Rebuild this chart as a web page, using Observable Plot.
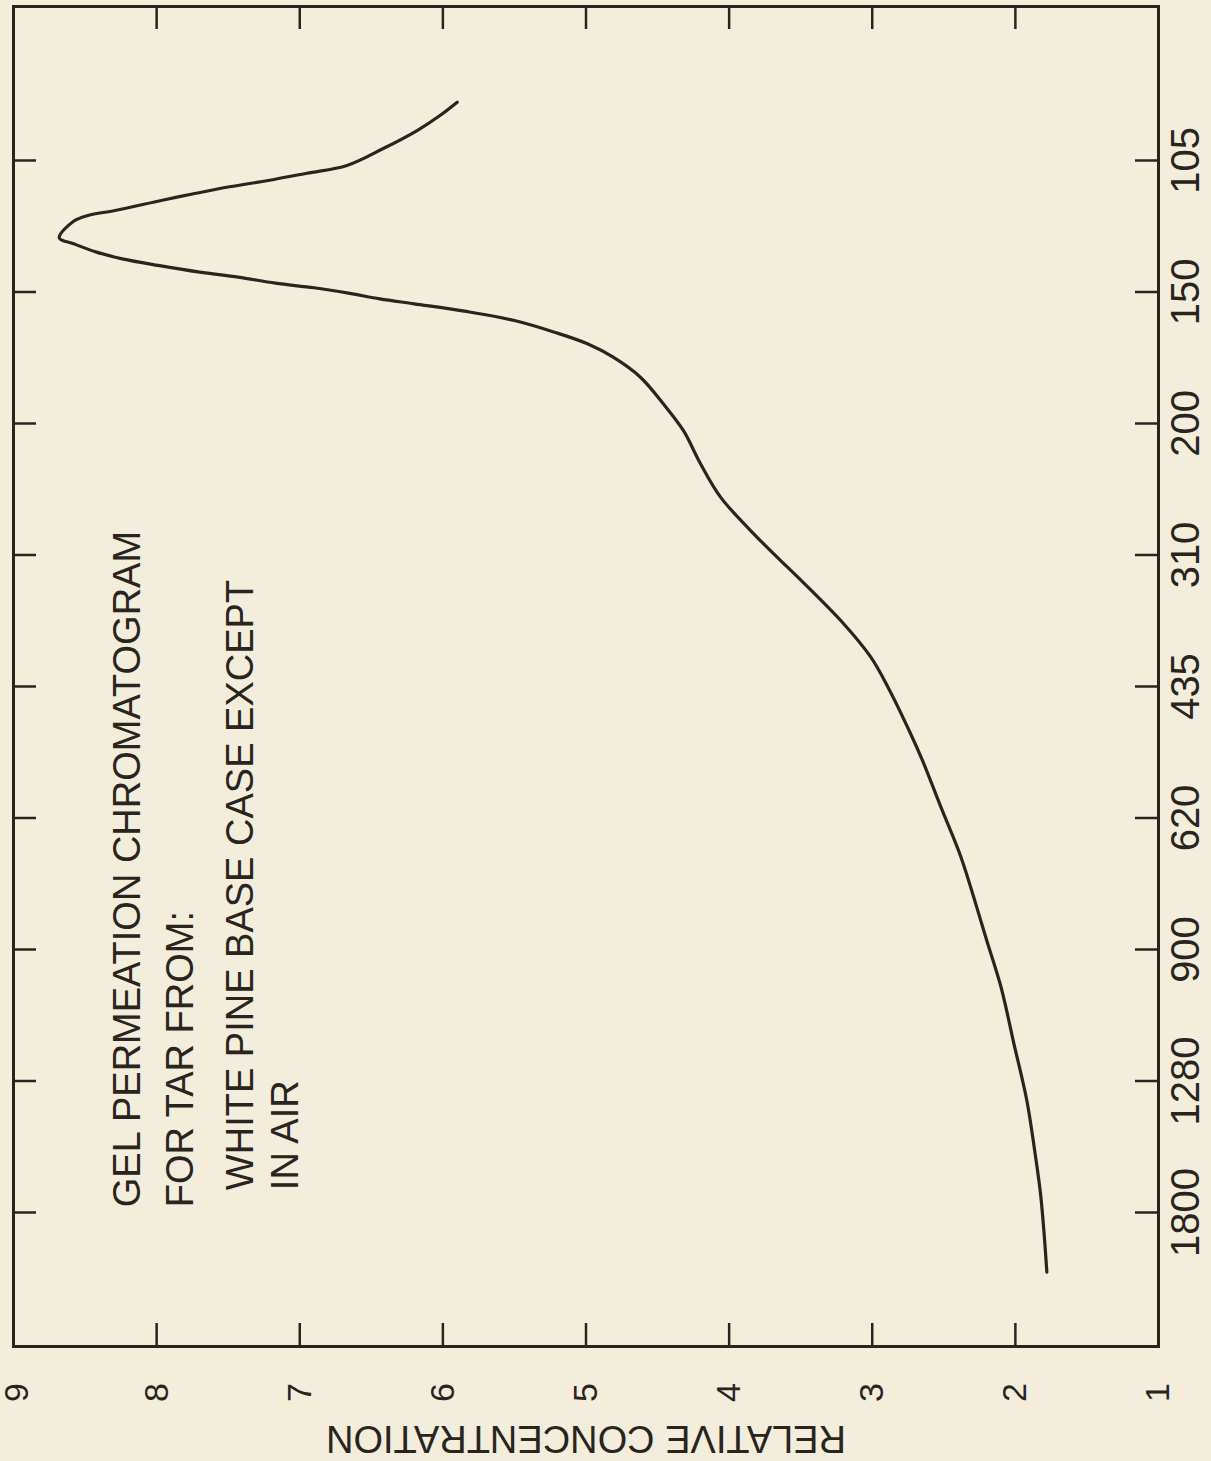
<!DOCTYPE html>
<html>
<head>
<meta charset="utf-8">
<script src="https://cdn.jsdelivr.net/npm/d3@7"></script>
<script src="https://cdn.jsdelivr.net/npm/@observablehq/plot@0.6"></script>
<style>
  html, body { margin: 0; padding: 0; background: #f3eedc; }
  #chart svg { display: block; background: #f3eedc; }
</style>
</head>
<body>
<div id="chart"></div>
<script>
// Relative concentration axis ticks (drawn reversed: 9 at left, 1 at right)
const concTicks = [9, 8, 7, 6, 5, 4, 3, 2, 1];
// Molecular weight labels, equally spaced (position index 0..8)
const mwLabels = ["105", "150", "200", "310", "435", "620", "900", "1280", "1800"];
const mwPos = [0, 1, 2, 3, 4, 5, 6, 7, 8];

// Curve: relative concentration and position along MW axis
const curveConc = [5.90, 6.02, 6.18, 6.42, 6.67, 6.95, 7.22, 7.49, 7.75, 7.96, 8.29, 8.48, 8.58, 8.68,
  8.58, 8.42, 8.24, 7.99, 7.70, 7.43, 7.17, 6.90, 6.65, 6.44, 6.20, 5.85, 5.50, 5.22, 4.99, 4.81,
  4.62, 4.46, 4.32, 4.20, 4.06, 3.85, 3.64, 3.52, 3.20, 3.01, 2.89, 2.74, 2.65, 2.52, 2.38, 2.27,
  2.20, 2.10, 2.01, 1.92, 1.865, 1.825, 1.80, 1.78];
const curvePos = [-0.443, -0.342, -0.228, -0.089, 0.038, 0.097, 0.152, 0.200, 0.255, 0.302, 0.380, 0.418, 0.462, 0.588,
  0.633, 0.697, 0.748, 0.798, 0.849, 0.887, 0.933, 0.968, 1.011, 1.052, 1.090, 1.146, 1.217, 1.306, 1.394, 1.496,
  1.648, 1.850, 2.053, 2.306, 2.560, 2.814, 3.042, 3.169, 3.523, 3.777, 4.005, 4.340, 4.560, 4.918, 5.298, 5.678,
  5.932, 6.287, 6.717, 7.148, 7.530, 7.850, 8.150, 8.454];

const titleLines = ["GEL PERMEATION CHROMATOGRAM", "FOR TAR FROM:", "WHITE PINE BASE CASE EXCEPT", "IN AIR"];
const axisTitle = "RELATIVE CONCENTRATION";

const curve = curveConc.map((c, i) => ({conc: c, pos: curvePos[i]}));
const mw = mwPos.map((p, i) => ({pos: p, label: mwLabels[i]}));

const W = 1211, H = 1461;
const mL = 13, mR = 53, mT = 6, mB = 115;
const plotW = W - mL - mR, plotH = H - mT - mB;
const ink = "#2a2421";
const tickLen = 23;
const font = "'Liberation Sans', Arial, Helvetica, sans-serif";

const innerConc = concTicks.filter(d => d !== 9 && d !== 1);
const edgeConc = concTicks.filter(d => d === 9);
const otherConc = concTicks.filter(d => d !== 9);

const chart = Plot.plot({
  width: W,
  height: H,
  marginLeft: mL,
  marginRight: mR,
  marginTop: mT,
  marginBottom: mB,
  style: {background: "#f3eedc", fontFamily: font, color: ink, overflow: "visible"},
  x: {domain: [9, 1], axis: null},
  y: {domain: [9.019, -1.171], axis: null},
  marks: [
    Plot.frame({stroke: ink, strokeWidth: 3}),
    // inward ticks on bottom and top
    Plot.tickX(innerConc, {x: d => d, stroke: ink, strokeWidth: 2.5, insetTop: plotH - tickLen}),
    Plot.tickX(innerConc, {x: d => d, stroke: ink, strokeWidth: 2.5, insetBottom: plotH - tickLen}),
    // inward ticks on left and right
    Plot.tickY(mw, {y: "pos", stroke: ink, strokeWidth: 2.5, insetRight: plotW - tickLen}),
    Plot.tickY(mw, {y: "pos", stroke: ink, strokeWidth: 2.5, insetLeft: plotW - tickLen}),
    // concentration tick labels (rotated)
    Plot.text(otherConc, {x: d => d, text: d => String(d), frameAnchor: "bottom", dy: 46,
      rotate: -90, textAnchor: "middle", lineAnchor: "middle", fontSize: 34, fill: ink}),
    Plot.text(edgeConc, {x: d => d, text: d => String(d), frameAnchor: "bottom", dy: 46, dx: 4,
      rotate: -90, textAnchor: "middle", lineAnchor: "middle", fontSize: 34, fill: ink}),
    // MW tick labels (rotated, right side)
    Plot.text(mw, {y: "pos", text: "label", frameAnchor: "right", dx: 28,
      rotate: -90, textAnchor: "middle", lineAnchor: "middle", fontSize: 40, fill: ink}),
    // axis title, upside down
    Plot.text([axisTitle], {text: d => d, frameAnchor: "bottom", dy: 92, rotate: 180,
      textAnchor: "middle", lineAnchor: "middle", fontSize: 38, fill: ink}),
    // annotation lines
    Plot.text([titleLines[0]], {text: d => d, x: () => 8.20, y: () => 7.96, rotate: -90,
      textAnchor: "start", lineAnchor: "middle", fontSize: 38, fill: ink}),
    Plot.text([titleLines[1]], {text: d => d, x: () => 7.83, y: () => 7.96, rotate: -90,
      textAnchor: "start", lineAnchor: "middle", fontSize: 38, fill: ink}),
    Plot.text([titleLines[2]], {text: d => d, x: () => 7.41, y: () => 7.83, rotate: -90,
      textAnchor: "start", lineAnchor: "middle", fontSize: 38, fill: ink}),
    Plot.text([titleLines[3]], {text: d => d, x: () => 7.10, y: () => 7.83, rotate: -90,
      textAnchor: "start", lineAnchor: "middle", fontSize: 38, fill: ink}),
    // the chromatogram curve
    Plot.line(curve, {x: "conc", y: "pos", curve: "catmull-rom", stroke: ink, strokeWidth: 3.2,
      strokeLinejoin: "round", strokeLinecap: "round"})
  ]
});

document.getElementById("chart").appendChild(chart);
</script>
</body>
</html>
